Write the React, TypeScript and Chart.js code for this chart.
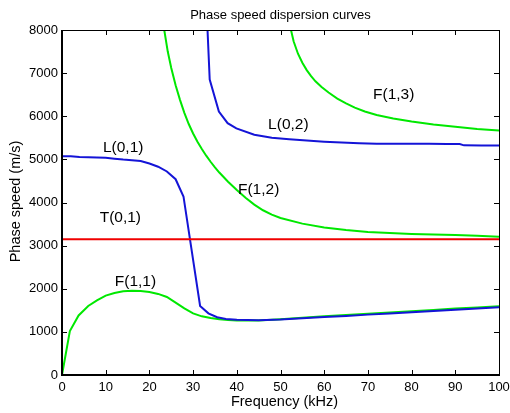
import React, { useEffect, useRef } from "react";
import { Chart, registerables } from "chart.js";

Chart.register(...registerables);

const FONT = "'Liberation Sans', Arial, sans-serif";

// Frequency (kHz) / phase speed (m/s) pairs
const L01_x = [0, 2, 4, 6, 8, 10, 12, 14, 16, 18, 20, 22, 24, 26, 27.8, 31.6, 33.5, 35.5, 37.5, 40, 45, 50, 55, 60, 65, 70, 75, 80, 85, 90, 95, 100];
const L01_y = [5075, 5070, 5055, 5050, 5045, 5035, 5015, 4995, 4980, 4960, 4905, 4830, 4720, 4540, 4140, 1600, 1430, 1340, 1300, 1280, 1270, 1285, 1315, 1345, 1370, 1400, 1425, 1455, 1485, 1515, 1540, 1570];

const L02_x = [33.2, 33.8, 35.9, 37.9, 39.9, 44, 48, 52, 56, 60, 64, 68, 72, 76, 80, 84, 88, 91, 92, 96, 100];
const L02_y = [8230, 6850, 6110, 5840, 5720, 5570, 5500, 5465, 5435, 5410, 5390, 5375, 5365, 5360, 5360, 5360, 5358, 5355, 5325, 5322, 5320];

const F11_x = [0, 1.8, 3.8, 6, 8, 10, 12, 14, 16, 18, 20, 22, 24, 26, 28, 30, 32, 34, 36, 38, 40, 45, 50, 55, 60, 65, 70, 75, 80, 85, 90, 95, 100];
const F11_y = [0, 1020, 1380, 1600, 1730, 1840, 1900, 1940, 1955, 1950, 1925, 1880, 1810, 1680, 1545, 1430, 1360, 1320, 1295, 1275, 1262, 1265, 1290, 1325, 1360, 1390, 1420, 1450, 1480, 1510, 1540, 1565, 1592];

const F12_x = [23, 23.4, 24.2, 25, 26, 27, 28, 29, 30, 31, 32, 33, 34, 35, 36, 38, 40, 42, 44, 46, 48, 50, 55, 60, 65, 70, 75, 80, 85, 90, 95, 100];
const F12_y = [8280, 8000, 7500, 7120, 6720, 6380, 6080, 5820, 5600, 5410, 5240, 5085, 4945, 4815, 4695, 4480, 4290, 4110, 3950, 3820, 3720, 3640, 3510, 3420, 3360, 3315, 3290, 3270, 3258, 3245, 3228, 3205];

const F13_x = [52.1, 52.4, 53, 54, 55, 56, 57, 58, 59.4, 61, 63, 65, 67, 69.3, 72, 75.8, 80, 85, 90, 95, 100];
const F13_y = [8180, 8000, 7740, 7450, 7240, 7070, 6930, 6810, 6680, 6550, 6410, 6300, 6200, 6110, 6030, 5950, 5880, 5810, 5755, 5705, 5670];

const T01_x = [0, 100];
const T01_y = [3150, 3150];

// Curve labels and their positions (data coordinates)
const labelText = ["L(0,1)", "L(0,2)", "F(1,3)", "F(1,2)", "T(0,1)", "F(1,1)"];
const labelX = [14.0, 51.8, 75.9, 45.0, 13.35, 16.8];
const labelY = [5267, 5802, 6500, 4298, 3651, 2174];

const xTicks = [0, 10, 20, 30, 40, 50, 60, 70, 80, 90, 100];
const yTicks = [0, 1000, 2000, 3000, 4000, 5000, 6000, 7000, 8000];

const TITLE = "Phase speed dispersion curves";
const X_TITLE = "Frequency (kHz)";
const Y_TITLE = "Phase speed (m/s)";

const BLUE = "rgb(20,20,215)";
const GREEN = "rgb(0,232,0)";
const RED = "rgb(240,0,0)";

function pts(xs: number[], ys: number[]) {
  return xs.map((x, i) => ({ x, y: ys[i] }));
}

const decor = {
  id: "decor",
  afterDraw(chart: any) {
    const ctx = chart.ctx;
    const { left, right, top, bottom } = chart.chartArea;
    const xs = chart.scales.x;
    const ys = chart.scales.y;
    ctx.save();
    // box
    ctx.strokeStyle = "#000";
    ctx.lineWidth = 1;
    ctx.beginPath();
    ctx.moveTo(left, top + 0.5);
    ctx.lineTo(right + 0.5, top + 0.5);
    ctx.lineTo(right + 0.5, bottom);
    ctx.stroke();
    ctx.lineWidth = 2;
    ctx.beginPath();
    ctx.moveTo(left, top);
    ctx.lineTo(left, bottom);
    ctx.lineTo(right + 1, bottom);
    ctx.stroke();
    // inward ticks
    ctx.lineWidth = 1;
    ctx.beginPath();
    xTicks.forEach((v) => {
      const p = Math.round(xs.getPixelForValue(v)) + 0.5;
      ctx.moveTo(p, bottom);
      ctx.lineTo(p, bottom - 5);
      ctx.moveTo(p, top);
      ctx.lineTo(p, top + 5);
    });
    yTicks.forEach((v) => {
      const p = Math.round(ys.getPixelForValue(v)) + 0.5;
      ctx.moveTo(left, p);
      ctx.lineTo(left + 5, p);
      ctx.moveTo(right + 0.5, p);
      ctx.lineTo(right - 5, p);
    });
    ctx.stroke();
    // titles
    ctx.fillStyle = "#000";
    ctx.textAlign = "center";
    ctx.textBaseline = "middle";
    ctx.font = `13px ${FONT}`;
    ctx.fillText(TITLE, (left + right) / 2, 15);
    ctx.font = `14.5px ${FONT}`;
    ctx.fillText(X_TITLE, (left + right) / 2 + 4, 402);
    ctx.save();
    ctx.translate(16, (top + bottom) / 2 - 1);
    ctx.rotate(-Math.PI / 2);
    ctx.fillText(Y_TITLE, 0, 0);
    ctx.restore();
    // curve labels
    ctx.font = `15.5px ${FONT}`;
    labelText.forEach((t, i) => {
      ctx.fillText(t, xs.getPixelForValue(labelX[i]), ys.getPixelForValue(labelY[i]));
    });
    ctx.restore();
  },
};

export default function App() {
  const ref = useRef<HTMLCanvasElement>(null);
  useEffect(() => {
    document.body.style.margin = "0";
    const canvas = ref.current!;
    const ds = (d: any[], color: string) => ({
      data: d,
      borderColor: color,
      backgroundColor: color,
      borderWidth: 2,
      pointRadius: 0,
      tension: 0,
      fill: false,
    });
    const chart = new Chart(canvas, {
      type: "line",
      data: {
        datasets: [
          ds(pts(T01_x, T01_y), RED),
          ds(pts(L01_x, L01_y), BLUE),
          ds(pts(L02_x, L02_y), BLUE),
          ds(pts(F11_x, F11_y), GREEN),
          ds(pts(F12_x, F12_y), GREEN),
          ds(pts(F13_x, F13_y), GREEN),
        ],
      },
      options: {
        responsive: false,
        animation: false,
        devicePixelRatio: 1,
        layout: { padding: { top: 30, right: 11, left: 0, bottom: 0 } },
        plugins: { legend: { display: false }, tooltip: { enabled: false }, title: { display: false } },
        scales: {
          x: {
            type: "linear",
            min: 0,
            max: 100,
            grid: { display: false, drawTicks: false },
            border: { display: false },
            ticks: {
              stepSize: 10,
              autoSkip: false,
              maxRotation: 0,
              padding: 5,
              color: "#000",
              font: { size: 13, family: FONT },
              callback: (v: any) => String(v),
            },
            afterFit: (s: any) => {
              s.height = 38;
              s.paddingLeft = 0;
              s.paddingRight = 0;
            },
          },
          y: {
            type: "linear",
            min: 0,
            max: 8000,
            grid: { display: false, drawTicks: false },
            border: { display: false },
            ticks: {
              stepSize: 1000,
              autoSkip: false,
              padding: 4,
              color: "#000",
              font: { size: 13, family: FONT },
              callback: (v: any) => String(v),
            },
            afterFit: (s: any) => {
              s.width = 62;
              s.paddingTop = 0;
              s.paddingBottom = 0;
            },
          },
        },
      },
      plugins: [decor],
    });
    return () => chart.destroy();
  }, []);
  return <canvas ref={ref} width={510} height={413} style={{ display: "block" }} />;
}
